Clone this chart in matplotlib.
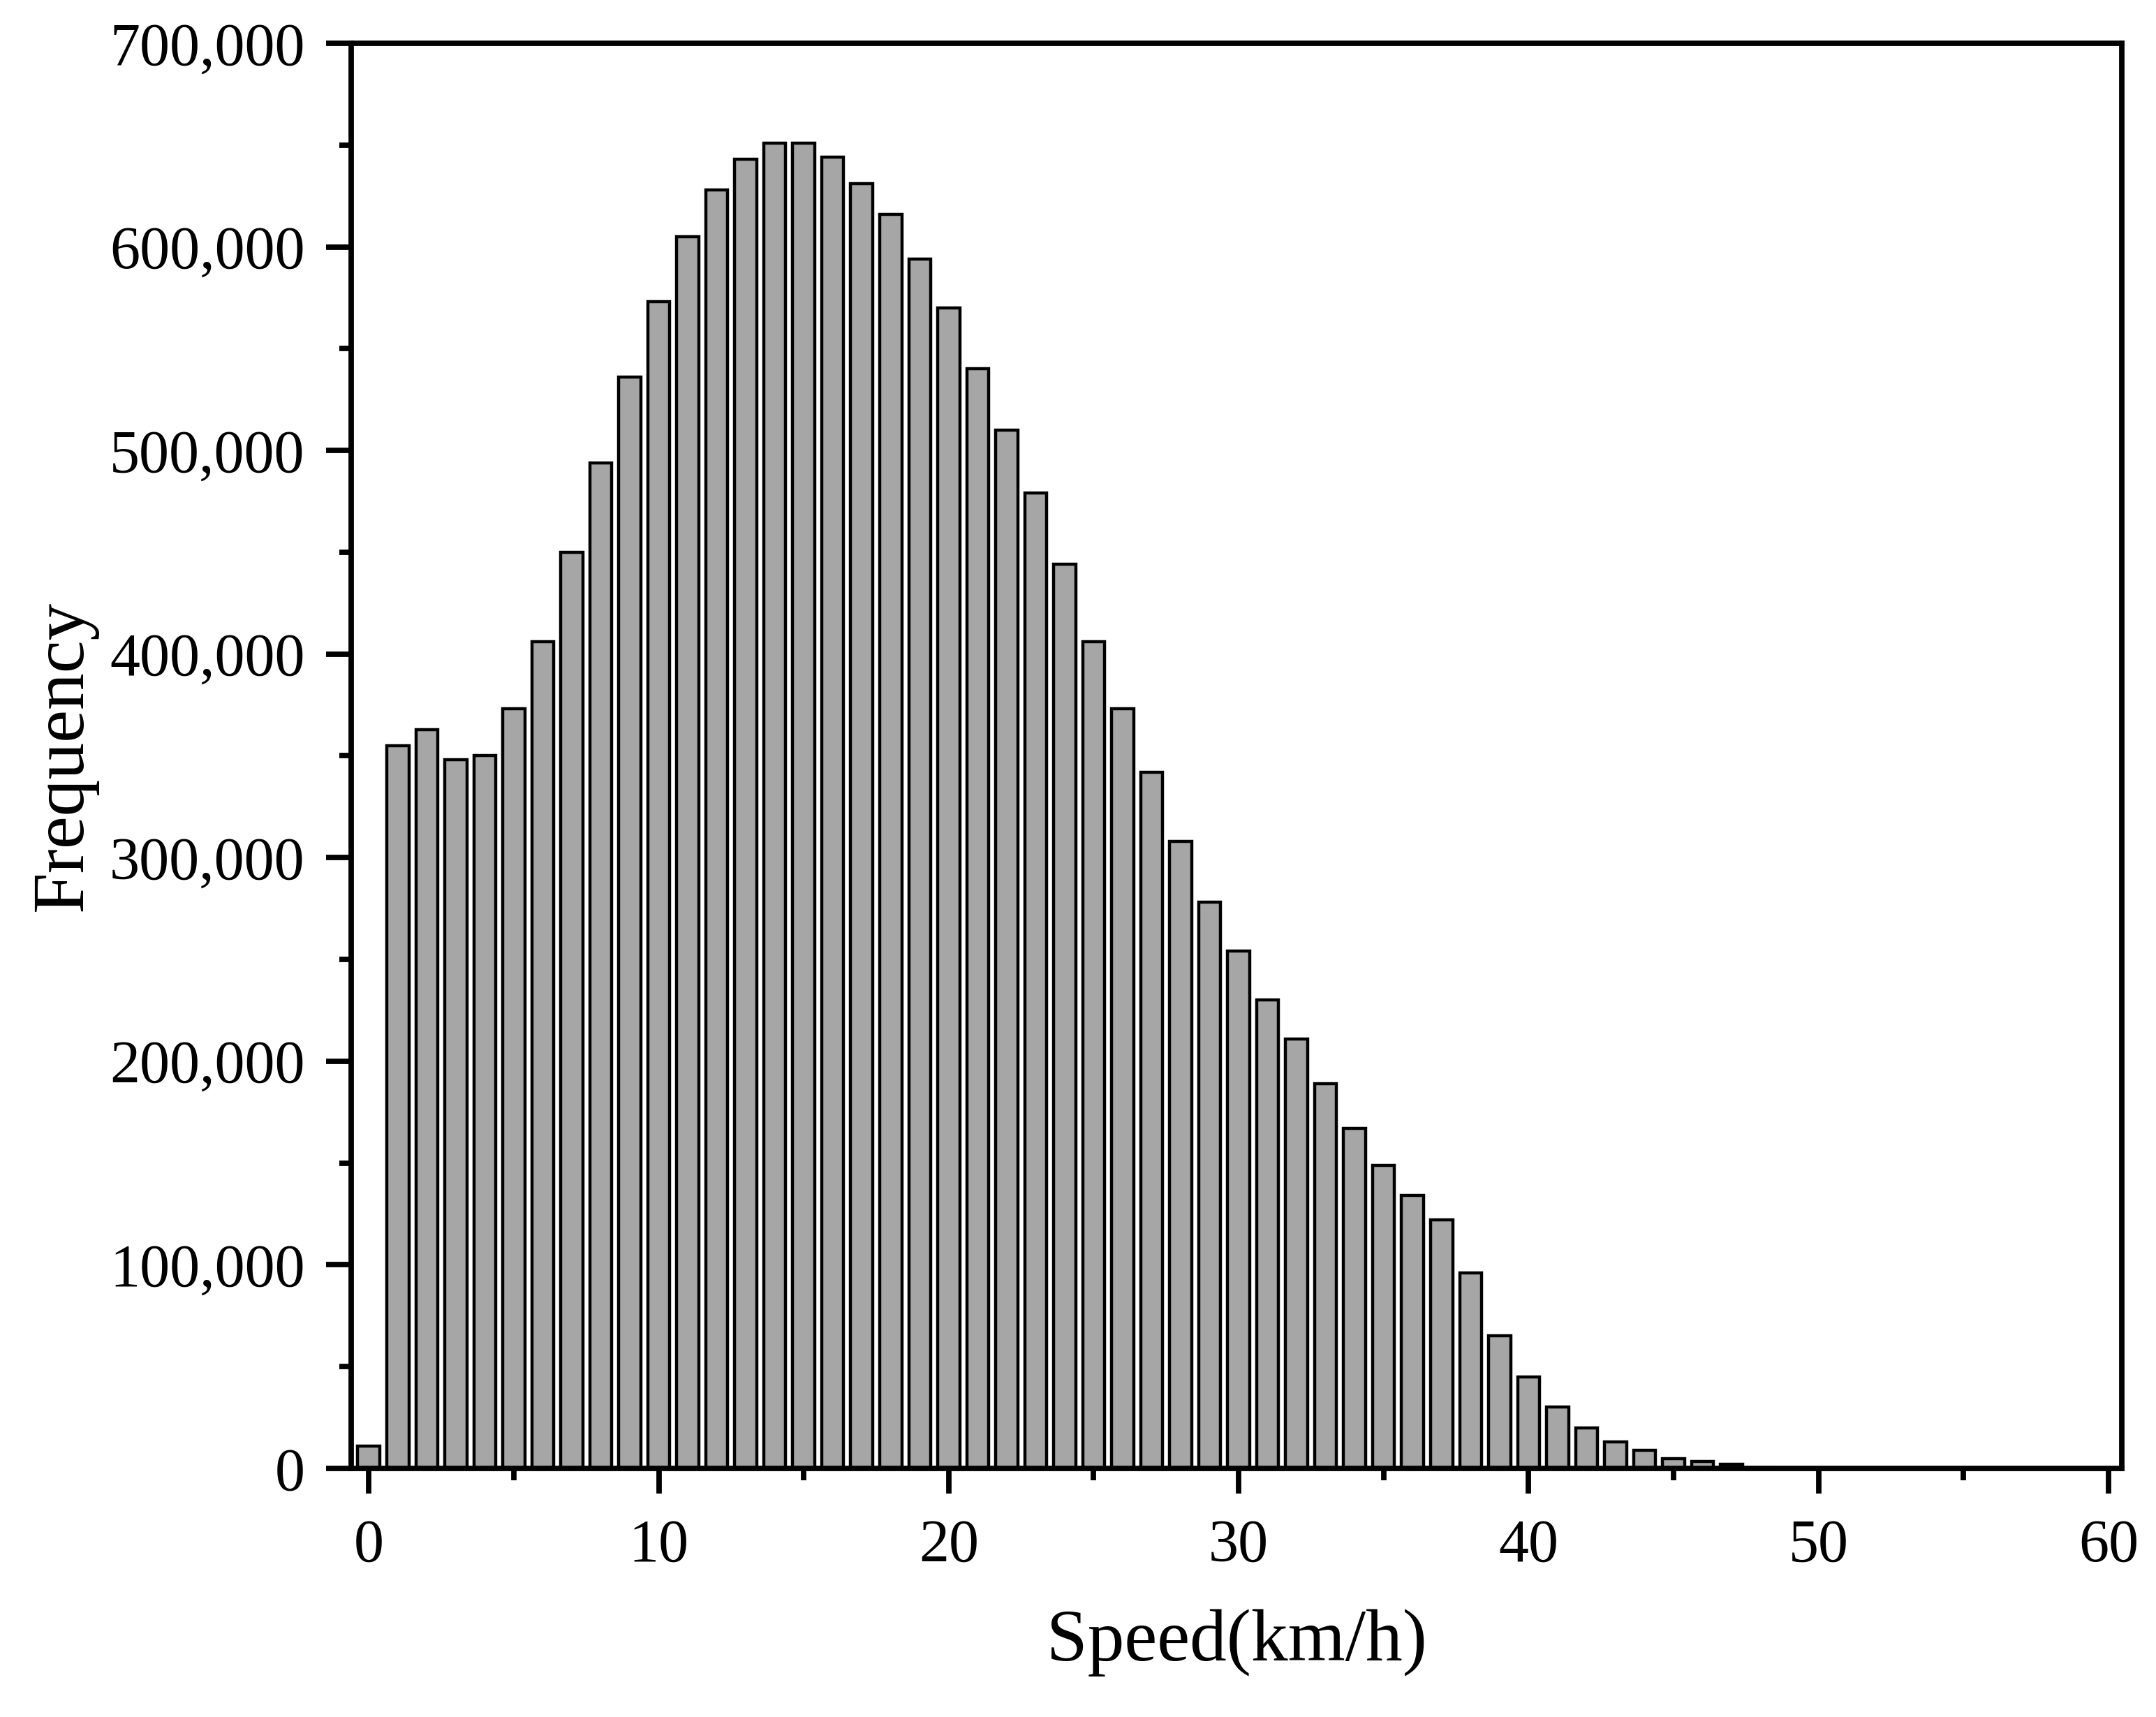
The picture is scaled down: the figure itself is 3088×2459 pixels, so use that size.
import numpy as np
import matplotlib
matplotlib.use("Agg")
import matplotlib.pyplot as plt
from matplotlib.ticker import MultipleLocator, FuncFormatter

# speed bins (km/h) and counts
speed = list(range(0, 49))
freq = [11000, 355000, 363000, 348000, 350000, 373000, 406000, 450000, 494000, 536000,
        573000, 605000, 628000, 643000, 651000, 651000, 644000, 631000, 616000, 594000,
        570000, 540000, 510000, 479000, 444000, 406000, 373000, 342000, 308000, 278000,
        254000, 230000, 211000, 189000, 167000, 149000, 134000, 122000, 96000, 65000,
        45000, 30000, 19800, 12900, 9000, 4700, 3500, 2000, 400]

plt.rcParams['font.family'] = ['Liberation Serif', 'DejaVu Serif']

fig = plt.figure(figsize=(15.44, 12.295), dpi=200)
ax = fig.add_axes([0.163, 0.1448, 0.821, 0.830])

ax.bar(speed, freq, width=0.76, color='#a6a6a6', edgecolor='black', linewidth=1.6)

ax.set_xlim(-0.6, 60.45)
ax.set_ylim(0, 700000)
ax.xaxis.set_major_locator(MultipleLocator(10))
ax.xaxis.set_minor_locator(MultipleLocator(5))
ax.yaxis.set_major_locator(MultipleLocator(100000))
ax.yaxis.set_minor_locator(MultipleLocator(50000))
ax.yaxis.set_major_formatter(FuncFormatter(lambda v, p: f"{int(v):,}"))

for s in ax.spines.values():
    s.set_linewidth(2.8)
ax.tick_params(which='major', direction='out', length=13, width=2.8, labelsize=31, pad=11)
ax.tick_params(which='minor', direction='out', length=6, width=2.8)
ax.tick_params(axis='x', which='major', pad=13)

ax.set_xlabel('Speed(km/h)', fontsize=38, labelpad=18)
ax.set_ylabel('Frequency', fontsize=38, labelpad=6)

fig.savefig('out.png', dpi=200)
